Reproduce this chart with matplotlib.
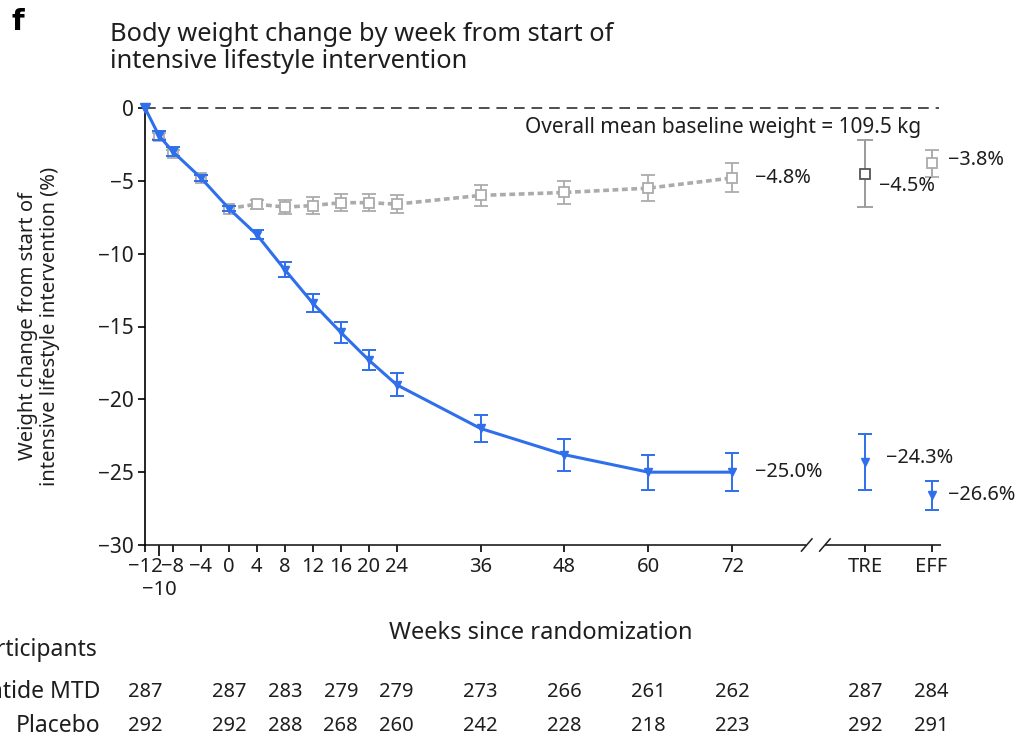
import matplotlib
matplotlib.use("Agg")
import matplotlib.pyplot as plt
import matplotlib.transforms as mtransforms
import numpy as np

plt.rcParams["font.family"] = ["Noto Sans", "DejaVu Sans"]

# ---------------------------------------------------------------------------
# Data
# ---------------------------------------------------------------------------
weeks = [-12, -10, -8, -4, 0, 4, 8, 12, 16, 20, 24, 36, 48, 60, 72]
drug_mean = [0.0, -1.9, -3.0, -4.8, -6.9, -8.7, -11.1, -13.4, -15.4, -17.3,
             -19.0, -22.0, -23.8, -25.0, -25.0]
drug_err = [0.0, 0.3, 0.3, 0.2, 0.2, 0.3, 0.5, 0.6, 0.7, 0.7, 0.8, 0.9,
            1.1, 1.2, 1.3]
placebo_mean = [0.0, -1.9, -3.1, -4.8, -6.9, -6.6, -6.8, -6.7, -6.5, -6.5,
                -6.6, -6.0, -5.8, -5.5, -4.8]
placebo_err = [0.0, 0.2, 0.2, 0.2, 0.2, 0.3, 0.5, 0.6, 0.6, 0.6, 0.6, 0.7,
               0.8, 0.9, 1.0]

# estimands shown after the axis break
est_labels = ["TRE", "EFF"]
est_pos = [91.0, 100.5]
est_drug = [-24.3, -26.6]
est_drug_err = [1.9, 1.0]
est_placebo = [-4.5, -3.8]
est_placebo_err = [2.3, 0.95]

# participants table
table_weeks = [-12, 0, 8, 16, 24, 36, 48, 60, 72]
n_drug = [287, 287, 283, 279, 279, 273, 266, 261, 262, 287, 284]
n_placebo = [292, 292, 288, 268, 260, 242, 228, 218, 223, 292, 291]

tick_weeks = [-12, -10, -8, -4, 0, 4, 8, 12, 16, 20, 24, 36, 48, 60, 72]

BLUE = "#2f6fec"
GREY = "#ababab"
DARK_GREY = "#555555"
INK = "#1e1e1e"

W, H = 1026, 742


def fp(x, y):
    """pixel position -> figure fraction"""
    return x / W, 1 - y / H


fig = plt.figure(figsize=(W / 100, H / 100), dpi=100)
ax = fig.add_axes([145 / W, 1 - 545 / H, 797 / W, 437 / H])
ax.set_xlim(-12, 102)
ax.set_ylim(-30, 0)

# zero reference line
ax.plot([-12, 101.5], [0, 0], color=INK, lw=1.1, dashes=(7, 4.5),
        zorder=1, clip_on=False)

# placebo
ax.plot(weeks[4:], placebo_mean[4:], color=GREY, lw=2.6, dashes=(1.6, 1.0),
        zorder=2)
ax.errorbar(weeks[1:], placebo_mean[1:], yerr=placebo_err[1:], fmt="s",
            ms=7, mfc="white", mec=GREY, mew=1.3, ecolor=GREY, elinewidth=1.3,
            capsize=5, capthick=1.3, zorder=3)

# drug
ax.plot(weeks, drug_mean, color=BLUE, lw=2.2, zorder=4, clip_on=False)
ax.errorbar(weeks[1:], drug_mean[1:], yerr=drug_err[1:], fmt="v", ms=6,
            color=BLUE, elinewidth=1.4, capsize=5, capthick=1.4, zorder=5)
ax.plot([weeks[0]], [drug_mean[0]], "v", ms=7, color=BLUE, zorder=5,
        clip_on=False)

# estimands
ax.errorbar([est_pos[0]], [est_placebo[0]], yerr=[est_placebo_err[0]],
            fmt="s", ms=7, mfc="white", mec=DARK_GREY, mew=1.3,
            ecolor="#9a9a9a", elinewidth=1.4, capsize=6, capthick=1.4)
ax.errorbar([est_pos[1]], [est_placebo[1]], yerr=[est_placebo_err[1]],
            fmt="s", ms=7, mfc="white", mec=GREY, mew=1.3, ecolor=GREY,
            elinewidth=1.4, capsize=5, capthick=1.4)
ax.errorbar(est_pos, est_drug, yerr=est_drug_err, fmt="v", ms=6, color=BLUE,
            elinewidth=1.4, capsize=5, capthick=1.4, ls="none")

# value labels
lab_kw = dict(fontsize=14.3, color=INK, va="center")
ax.text(75.2, placebo_mean[-1], f"\u2212{abs(placebo_mean[-1]):.1f}%", **lab_kw)
ax.text(75.2, drug_mean[-1], f"\u2212{abs(drug_mean[-1]):.1f}%", **lab_kw)
ax.text(93.0, est_placebo[0] - 0.85, f"\u2212{abs(est_placebo[0]):.1f}%", **lab_kw)
ax.text(94.0, est_drug[0] + 0.3, f"\u2212{abs(est_drug[0]):.1f}%", **lab_kw)
ax.text(102.8, est_placebo[1] + 0.2, f"\u2212{abs(est_placebo[1]):.1f}%", **lab_kw)
ax.text(102.8, est_drug[1], f"\u2212{abs(est_drug[1]):.1f}%", **lab_kw)

ax.text(99.0, -1.35, "Overall mean baseline weight = 109.5 kg", fontsize=15,
        ha="right", va="center", color=INK)

# spines / axes
for s in ["top", "right", "bottom"]:
    ax.spines[s].set_visible(False)
ax.spines["left"].set_linewidth(1.2)
ax.set_yticks(np.arange(-30, 1, 5))
ax.tick_params(axis="y", labelsize=15, length=5, width=1.2, pad=3,
               labelcolor=INK)

# broken x axis line
trans = mtransforms.blended_transform_factory(ax.transData, ax.transAxes)
ax.plot([-12, 82.6], [0, 0], color=INK, lw=1.2, transform=trans,
        clip_on=False, solid_capstyle="butt")
ax.plot([85.2, 101.9], [0, 0], color=INK, lw=1.2, transform=trans,
        clip_on=False, solid_capstyle="butt")
for xb in [81.9, 84.5]:
    ax.plot([xb, xb + 1.5], [-0.014, 0.014], color=INK, lw=1.1,
            transform=trans, clip_on=False)

ax.set_xticks(tick_weeks + est_pos)
labels = [f"\u2212{abs(w)}" if w < 0 else str(w) for w in tick_weeks]
labels = labels + est_labels
ax.set_xticklabels(labels)
ax.tick_params(axis="x", labelsize=14.5, length=5, width=1.2, pad=4,
               labelcolor=INK)
for t, lbl in zip(ax.xaxis.get_major_ticks(), labels):
    if lbl == "\u221210":
        t.set_pad(20)
        t.tick1line.set_markersize(8)

ax.set_ylabel("Weight change from start of\nintensive lifestyle intervention (%)",
              fontsize=14.5, linespacing=1.1, color=INK)
ax.yaxis.set_label_coords(-0.107, 0.5)

# titles
fig.text(*fp(11, 22), "f", fontsize=21, fontweight="heavy", va="center",
         family="DejaVu Sans")
fig.text(*fp(110, 48), "Body weight change by week from start of\n"
         "intensive lifestyle intervention", fontsize=18.3, va="center",
         linespacing=1.12, color=INK)
fig.text(*fp(541, 633), "Weeks since randomization", fontsize=17,
         ha="center", va="center", color=INK)

# participants table
fig.text(*fp(97, 650), "Participants", fontsize=16.5, ha="right", va="center",
         color=INK)
fig.text(*fp(100, 692), "Tirzepatide MTD", fontsize=16.5, ha="right",
         va="center", color=INK)
fig.text(*fp(100, 726), "Placebo", fontsize=16.5, ha="right", va="center",
         color=INK)
ttrans = mtransforms.blended_transform_factory(ax.transData, fig.transFigure)
cols = table_weeks + est_pos
for xc, nd, npl in zip(cols, n_drug, n_placebo):
    ax.text(xc, 1 - 692 / H, str(nd), transform=ttrans, fontsize=14.5,
            ha="center", va="center", clip_on=False, color=INK)
    ax.text(xc, 1 - 726 / H, str(npl), transform=ttrans, fontsize=14.5,
            ha="center", va="center", clip_on=False, color=INK)

fig.savefig("out.png", dpi=100)
